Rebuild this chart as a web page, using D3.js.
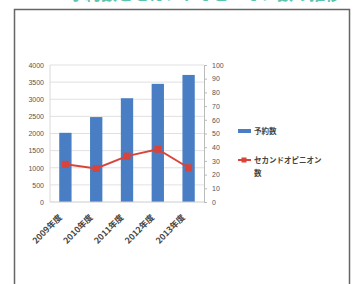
<!DOCTYPE html>
<html>
<head>
<meta charset="utf-8">
<script src="https://cdn.jsdelivr.net/npm/d3@7"></script>
<style>
  body { margin: 0; background: #fff; }
  svg { display: block; font-family: "Noto Sans CJK JP", sans-serif; }
</style>
</head>
<body>
<div class="chart"></div>
<script>
const years = ["2009年度", "2010年度", "2011年度", "2012年度", "2013年度"];
const bookings = [2020, 2480, 3030, 3450, 3710];
const secondOpinions = [27.5, 24.5, 33.5, 38.5, 25];
const leftTicks = [0, 500, 1000, 1500, 2000, 2500, 3000, 3500, 4000];
const rightTicks = [0, 10, 20, 30, 40, 50, 60, 70, 80, 90, 100];

const width = 353;
const height = 284;
const plotLeft = 50, plotRight = 204, plotTop = 65, plotBottom = 202;

const svg = d3.select(".chart").append("svg")
  .attr("width", width)
  .attr("height", height);

// heading, cut off at the top like in the original scan
svg.append("text")
  .attr("x", 205)
  .attr("y", -0.5)
  .attr("text-anchor", "middle")
  .style("font-size", "16px")
  .style("font-weight", "bold")
  .attr("fill", "#5cc4ad")
  .text("予約数とセカンドオピニオン数の推移");

// frame
svg.append("path")
  .attr("d", "M14.5,290 V9.5 H349.5 V290")
  .attr("fill", "none")
  .attr("stroke", "#666")
  .attr("stroke-width", 1.5);

const x = d3.scaleBand()
  .domain(years)
  .range([plotLeft, plotRight])
  .paddingInner(0.6)
  .paddingOuter(0.3);

const y = d3.scaleLinear().domain([0, 4000]).range([plotBottom, plotTop]);
const y2 = d3.scaleLinear().domain([0, 100]).range([plotBottom, plotTop]);

// grid
svg.append("g").selectAll("line")
  .data(leftTicks.slice(1))
  .enter().append("line")
  .attr("x1", plotLeft).attr("x2", plotRight)
  .attr("y1", d => y(d)).attr("y2", d => y(d))
  .attr("stroke", "#d9d9d9")
  .attr("stroke-width", 0.8);

svg.append("line")
  .attr("x1", plotLeft).attr("x2", plotLeft)
  .attr("y1", plotTop).attr("y2", plotBottom)
  .attr("stroke", "#d9d9d9");

// left axis
const leftAxis = svg.append("g")
  .attr("transform", "translate(" + (plotLeft - 2) + ",0)")
  .call(d3.axisLeft(y).tickValues(leftTicks).tickFormat(d3.format("d")).tickSize(0).tickPadding(4));
leftAxis.select(".domain").remove();
leftAxis.selectAll("text")
  .style("font-size", "7px")
  .style("font-family", "Liberation Sans")
  .attr("fill", "#555");

// right axis
const rightAxis = svg.append("g")
  .attr("transform", "translate(" + plotRight + ",0)")
  .call(d3.axisRight(y2).tickValues(rightTicks).tickSize(3).tickPadding(5));
rightAxis.select(".domain").attr("stroke", "#bbb");
rightAxis.selectAll(".tick line").attr("stroke", "#bbb");
rightAxis.selectAll("text")
  .style("font-size", "7px")
  .style("font-family", "Liberation Sans")
  .attr("fill", "#555");

// bars
svg.append("g").selectAll("rect")
  .data(bookings)
  .enter().append("rect")
  .attr("x", (d, i) => x(years[i]))
  .attr("y", d => y(d))
  .attr("width", x.bandwidth())
  .attr("height", d => plotBottom - y(d))
  .attr("fill", "#4a7ec4");

// baseline
svg.append("line")
  .attr("x1", plotLeft).attr("x2", plotRight)
  .attr("y1", plotBottom).attr("y2", plotBottom)
  .attr("stroke", "#ccc");

// line series
const line = d3.line()
  .x((d, i) => x(years[i]) + x.bandwidth() / 2)
  .y(d => y2(d));

svg.append("path")
  .datum(secondOpinions)
  .attr("d", line)
  .attr("fill", "none")
  .attr("stroke", "#d9433a")
  .attr("stroke-width", 2);

svg.append("g").selectAll("rect")
  .data(secondOpinions)
  .enter().append("rect")
  .attr("x", (d, i) => x(years[i]) + x.bandwidth() / 2 - 3.5)
  .attr("y", d => y2(d) - 3.5)
  .attr("width", 7)
  .attr("height", 7)
  .attr("fill", "#d9433a");

// category labels
svg.append("g").selectAll("text")
  .data(years)
  .enter().append("text")
  .attr("transform", d => "translate(" + (x(d) + x.bandwidth() / 2 - 3) + "," + (plotBottom + 16) + ") rotate(-45)")
  .attr("text-anchor", "end")
  .style("font-size", "8.5px")
  .style("font-weight", "bold")
  .attr("fill", "#444")
  .text(d => d);

// legend
svg.append("line")
  .attr("x1", 238).attr("x2", 251)
  .attr("y1", 131).attr("y2", 131)
  .attr("stroke", "#4a7ec4")
  .attr("stroke-width", 4);
svg.append("text")
  .attr("x", 254).attr("y", 134)
  .style("font-size", "7.5px")
  .style("font-weight", "bold")
  .attr("fill", "#444")
  .text("予約数");

svg.append("line")
  .attr("x1", 238).attr("x2", 251)
  .attr("y1", 160).attr("y2", 160)
  .attr("stroke", "#d9433a")
  .attr("stroke-width", 2);
svg.append("rect")
  .attr("x", 241.5).attr("y", 157.5)
  .attr("width", 5).attr("height", 5)
  .attr("fill", "#d9433a");
svg.append("text")
  .attr("x", 254).attr("y", 163)
  .style("font-size", "7.5px")
  .style("font-weight", "bold")
  .attr("fill", "#444")
  .text("セカンドオピニオン");
svg.append("text")
  .attr("x", 254).attr("y", 176)
  .style("font-size", "7.5px")
  .style("font-weight", "bold")
  .attr("fill", "#444")
  .text("数");
</script>
</body>
</html>
